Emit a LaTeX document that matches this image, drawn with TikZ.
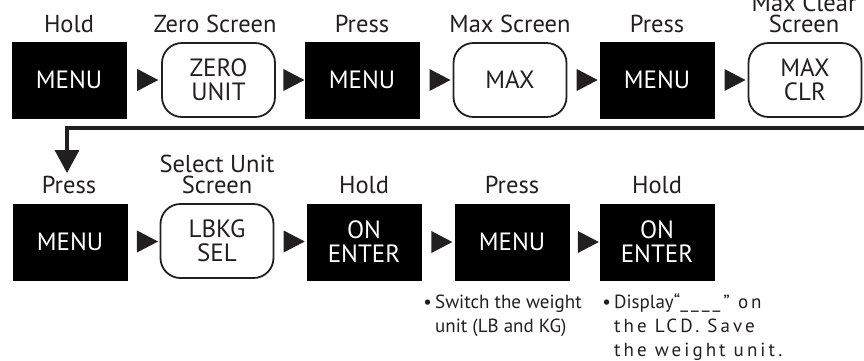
\documentclass[tikz,border=0pt]{standalone}
\usepackage{fontspec}
\setmainfont{PT Sans}
\usetikzlibrary{shapes.geometric,arrows.meta,calc}
\definecolor{dk}{HTML}{231F20}
\newcommand\lsp[1]{{\addfontfeatures{LetterSpace=16}#1}}
\begin{document}
\begin{tikzpicture}[x=1pt,y=-1pt,
  key/.style={fill=black, text=white, minimum width=115pt, minimum height=77pt,
    inner sep=0pt, align=center, font=\fontsize{25}{24}\selectfont},
  scr/.style={draw=dk, line width=1.8pt, rounded corners=20pt, minimum width=113pt,
    minimum height=74pt, inner sep=0pt, align=center, text=dk, font=\fontsize{25}{24}\selectfont},
  lbl/.style={anchor=base, align=center, text=dk, inner sep=0pt, font=\fontsize{24.5}{21}\selectfont},
  tri/.style={isosceles triangle, isosceles triangle stretches, fill=dk, draw=none,
    inner sep=0pt, outer sep=0pt, minimum width=22pt, minimum height=21pt},
  note/.style={anchor=base west, align=left, text=dk, inner sep=0pt, font=\fontsize{19}{24}\selectfont},
  link/.style={draw=dk, line width=3.5pt, -{Triangle[length=23pt,width=24pt]}}]
\useasboundingbox (0,0) rectangle (864,360);
% row 1
\node[key] (b1) at (69,80) {MENU};
\node[scr] (z1) at (218.5,80) {ZERO\\UNIT};
\node[key] (b2) at (362,80) {MENU};
\node[scr] (z2) at (510,80) {MAX};
\node[key] (b3) at (657,80) {MENU};
\node[scr] (z3) at (805,80) {MAX\\CLR};
\node[lbl] (l1) at (69,32) {Hold};
\node[lbl] (l2) at (215,32) {Zero Screen};
\node[lbl] (l3) at (362,32) {Press};
\node[lbl] (l4) at (510,32) {Max Screen};
\node[lbl] (l5) at (657,32) {Press};
\node[lbl] (l6) at (804,32) {Max Clear\\Screen};
% row 2
\node[key] (c1) at (70,242) {MENU};
\node[scr] (c2) at (217,241) {LBKG\\SEL};
\node[key] (c3) at (364,242) {ON\\ENTER};
\node[key] (c4) at (512,242) {MENU};
\node[key] (c5) at (657,242) {ON\\ENTER};
\node[lbl] (m1) at (69,193) {Press};
\node[lbl] (m2) at (217,193) {Select Unit\\Screen};
\node[lbl] (m3) at (364,193) {Hold};
\node[lbl] (m4) at (512,193) {Press};
\node[lbl] (m5) at (657,193) {Hold};
% notes
\node[note] (n1) at (435,332) {\llap{\textbullet\,}Switch the weight\\unit (LB and KG)};
\node[note] (n2) at (614,356) {\llap{\textbullet\,}Display“\lsp{\_\_\_\_” on}\\\lsp{the LCD. Save}\\\lsp{the weight unit.}};
% triangles
\path (b1.east) -- node[tri] {} (z1.west);
\path (z1.east) -- node[tri] {} (b2.west);
\path (b2.east) -- node[tri] {} (z2.west);
\path (z2.east) -- node[tri] {} (b3.west);
\path (b3.east) -- node[tri] {} (z3.west);
\path (c1.east) -- node[tri] {} (c2.west);
\path (c2.east) -- node[tri] {} (c3.west);
\path (c3.east) -- node[tri] {} (c4.west);
\path (c4.east) -- node[tri] {} (c5.west);
% return line
\coordinate (e) at (864,128);
\coordinate (t) at (67,173);
\draw[link] (e) -| (t);
\end{tikzpicture}
\end{document}
